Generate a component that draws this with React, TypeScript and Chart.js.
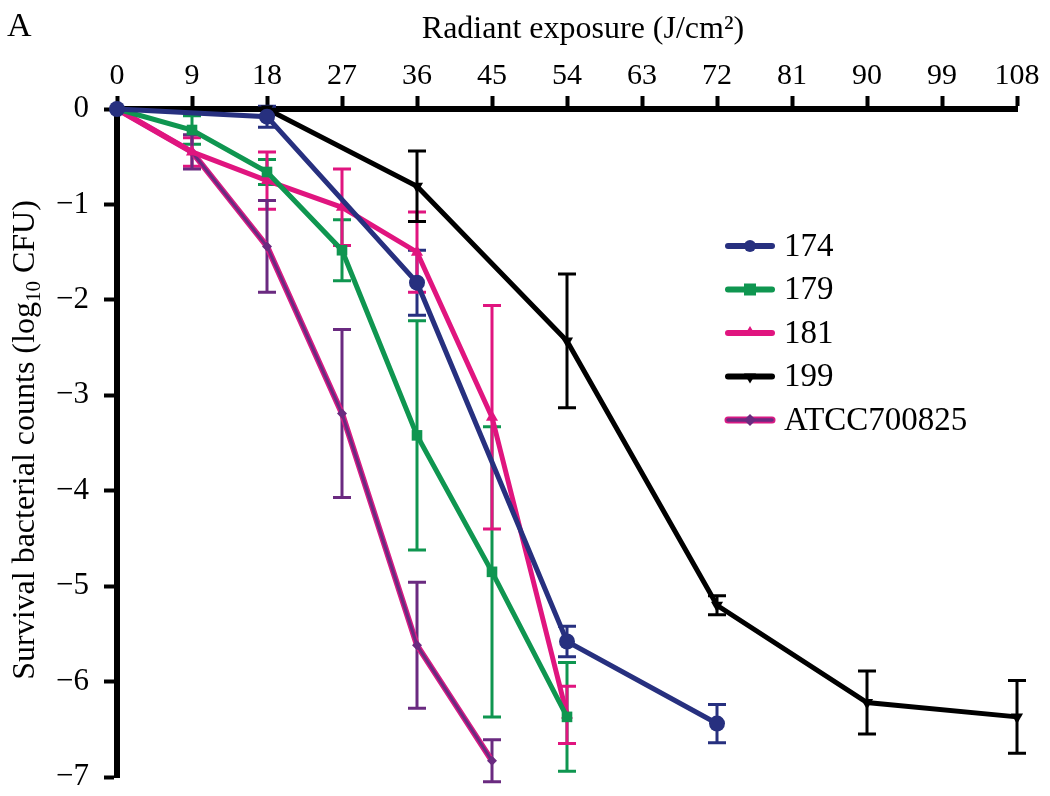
import React, { useEffect, useRef } from "react";
import { Chart, registerables } from "chart.js";

Chart.register(...registerables);

// ---- data ----
const xTicks = [0, 9, 18, 27, 36, 45, 54, 63, 72, 81, 90, 99, 108];
const yTickLabels = ["0", "\u22121", "\u22122", "\u22123", "\u22124", "\u22125", "\u22126", "\u22127"];

const seriesNames = ["174", "179", "181", "199", "ATCC700825"];

const dose174 = [0, 18, 36, 54, 72];
const mean174 = [0, -0.08, -1.82, -5.58, -6.44];
const err174 = [0, 0.11, 0.34, 0.16, 0.2];

const dose179 = [0, 9, 18, 27, 36, 45, 54];
const mean179 = [0, -0.22, -0.66, -1.48, -3.42, -4.85, -6.37];
const err179 = [0, 0.15, 0.13, 0.32, 1.2, 1.52, 0.57];

const dose181 = [0, 9, 18, 27, 36, 45, 54];
const mean181 = [0, -0.45, -0.75, -1.03, -1.5, -3.23, -6.35];
const err181 = [0, 0.15, 0.3, 0.4, 0.42, 1.17, 0.3];

const dose199 = [0, 18, 36, 54, 72, 90, 108];
const mean199 = [0, 0, -0.81, -2.43, -5.2, -6.22, -6.37];
const err199 = [0, 0, 0.37, 0.7, 0.1, 0.33, 0.38];

const doseATCC = [0, 9, 18, 27, 36, 45];
const meanATCC = [0, -0.45, -1.44, -3.19, -5.62, -6.83];
const errATCC = [0, 0.18, 0.48, 0.88, 0.66, 0.22];

const colors = ["#27307f", "#0f9650", "#e0157f", "#000000", "#6a2a80"];
const outlineATCC = "#d81b84";
const pointStyles = ["circle", "rect", "triangle", "triangle", "rectRot"];
const pointRotations = [0, 0, 0, 180, 0];
const pointRadii = [8, 7.5, 7, 7, 5];

const FONT = "'Liberation Serif', 'DejaVu Serif', serif";

const allDose = [dose174, dose179, dose181, dose199, doseATCC];
const allMean = [mean174, mean179, mean181, mean199, meanATCC];
const allErr = [err174, err179, err181, err199, errATCC];

const toPoints = (xs: number[], ys: number[]) => xs.map((x, i) => ({ x, y: ys[i] }));

const errorBarPlugin = {
  id: "errorBars",
  beforeDatasetsDraw(chart: any) {
    const { ctx, scales } = chart;
    const xs = scales.x;
    const ys = scales.y;
    ctx.save();
    allDose.forEach((doses, si) => {
      ctx.strokeStyle = colors[si];
      ctx.lineWidth = 3;
      ctx.lineCap = "butt";
      doses.forEach((d, i) => {
        const e = allErr[si][i];
        if (!e) return;
        const px = xs.getPixelForValue(d);
        const top = ys.getPixelForValue(allMean[si][i] + e);
        const bot = ys.getPixelForValue(allMean[si][i] - e);
        ctx.beginPath();
        ctx.moveTo(px, top);
        ctx.lineTo(px, bot);
        ctx.moveTo(px - 9, top);
        ctx.lineTo(px + 9, top);
        ctx.moveTo(px - 9, bot);
        ctx.lineTo(px + 9, bot);
        ctx.stroke();
      });
    });
    ctx.restore();
  },
};

const annotationPlugin = {
  id: "annotations",
  afterDraw(chart: any) {
    const { ctx } = chart;
    ctx.save();
    ctx.fillStyle = "#000";
    // panel letter
    ctx.font = `34px ${FONT}`;
    ctx.textAlign = "left";
    ctx.textBaseline = "alphabetic";
    ctx.fillText("A", 7, 36);
    // x title
    ctx.font = `32px ${FONT}`;
    ctx.textAlign = "center";
    ctx.fillText("Radiant exposure (J/cm\u00b2)", 583, 38);
    // y title with subscript
    ctx.translate(34, 440);
    ctx.rotate(-Math.PI / 2);
    const big = `32px ${FONT}`;
    const small = `21px ${FONT}`;
    const parts = [
      { t: "Survival bacterial counts (log", f: big, dy: 0 },
      { t: "10", f: small, dy: 6 },
      { t: " CFU)", f: big, dy: 0 },
    ];
    let total = 0;
    parts.forEach((p) => {
      ctx.font = p.f;
      total += ctx.measureText(p.t).width;
    });
    let cx = -total / 2;
    ctx.textAlign = "left";
    parts.forEach((p) => {
      ctx.font = p.f;
      ctx.fillText(p.t, cx, p.dy);
      cx += ctx.measureText(p.t).width;
    });
    ctx.restore();

    // legend
    ctx.save();
    const lx = 728;
    const ly0 = 246;
    const gap = 43.5;
    seriesNames.forEach((name, i) => {
      const y = ly0 + i * gap;
      ctx.lineCap = "round";
      if (i === 4) {
        ctx.strokeStyle = outlineATCC;
        ctx.lineWidth = 7;
        ctx.beginPath();
        ctx.moveTo(lx, y);
        ctx.lineTo(lx + 44, y);
        ctx.stroke();
        ctx.strokeStyle = colors[i];
        ctx.lineWidth = 3.5;
        ctx.beginPath();
        ctx.moveTo(lx, y);
        ctx.lineTo(lx + 44, y);
        ctx.stroke();
      } else {
        ctx.strokeStyle = colors[i];
        ctx.lineWidth = 6;
        ctx.beginPath();
        ctx.moveTo(lx, y);
        ctx.lineTo(lx + 44, y);
        ctx.stroke();
      }
      ctx.fillStyle = colors[i];
      ctx.beginPath();
      if (pointStyles[i] === "circle") ctx.arc(lx + 22, y, 6, 0, Math.PI * 2);
      else if (pointStyles[i] === "rect") ctx.rect(lx + 16, y - 6, 12, 12);
      else if (pointStyles[i] === "triangle" && pointRotations[i] === 0) {
        ctx.moveTo(lx + 22, y - 7);
        ctx.lineTo(lx + 28, y + 3);
        ctx.lineTo(lx + 16, y + 3);
      } else if (pointStyles[i] === "triangle") {
        ctx.moveTo(lx + 22, y + 7);
        ctx.lineTo(lx + 28, y - 3);
        ctx.lineTo(lx + 16, y - 3);
      } else {
        ctx.moveTo(lx + 22, y - 6);
        ctx.lineTo(lx + 28, y);
        ctx.lineTo(lx + 22, y + 6);
        ctx.lineTo(lx + 16, y);
      }
      ctx.closePath();
      ctx.fill();
      ctx.fillStyle = "#000";
      ctx.font = `33px ${FONT}`;
      ctx.textAlign = "left";
      ctx.textBaseline = "middle";
      ctx.fillText(name, lx + 56, y + 1);
    });
    ctx.restore();
  },
};

export default function App() {
  const ref = useRef<HTMLCanvasElement | null>(null);

  useEffect(() => {
    document.body.style.margin = "0";
    const canvas = ref.current;
    if (!canvas) return;

    const datasets: any[] = seriesNames.map((name, i) => ({
      label: name,
      data: toPoints(allDose[i], allMean[i]),
      borderColor: colors[i],
      backgroundColor: colors[i],
      borderWidth: i === 4 ? 3 : 5,
      pointStyle: pointStyles[i],
      rotation: pointRotations[i],
      pointRadius: pointRadii[i],
      pointBorderWidth: 0,
      pointBackgroundColor: colors[i],
      tension: 0,
      clip: false,
      order: i === 4 ? 1 : 0,
    }));
    // pink outline beneath the ATCC line
    datasets.push({
      label: "ATCC700825 outline",
      data: toPoints(doseATCC, meanATCC),
      borderColor: outlineATCC,
      borderWidth: 6,
      pointRadius: 0,
      tension: 0,
      clip: false,
      order: 2,
    });

    const chart = new Chart(canvas, {
      type: "line",
      data: { datasets },
      options: {
        responsive: false,
        animation: false,
        devicePixelRatio: 1,
        layout: { padding: { top: 0, left: 0, right: 33, bottom: 19 } },
        plugins: {
          legend: { display: false },
          tooltip: { enabled: false },
        },
        scales: {
          x: {
            type: "linear",
            position: "top",
            min: 0,
            max: 108,
            afterFit: (s: any) => {
              s.height = 109;
              s.paddingLeft = 0;
              s.paddingRight = 0;
            },
            afterBuildTicks: (s: any) => {
              s.ticks = xTicks.map((v) => ({ value: v }));
            },
            ticks: {
              color: "#000",
              font: { family: FONT, size: 30 },
              padding: 2,
              maxRotation: 0,
              autoSkip: false,
            },
            grid: {
              display: true,
              drawOnChartArea: false,
              drawTicks: true,
              tickLength: 13,
              tickWidth: 4,
              tickColor: "#000",
            },
            border: { display: true, color: "#000", width: 6 },
          },
          y: {
            type: "linear",
            min: -7,
            max: 0,
            afterFit: (s: any) => {
              s.width = 117;
              s.paddingTop = 0;
              s.paddingBottom = 0;
            },
            afterBuildTicks: (s: any) => {
              s.ticks = yTickLabels.map((_, i) => ({ value: -i }));
            },
            ticks: {
              color: "#000",
              font: { family: FONT, size: 31 },
              padding: 15,
              autoSkip: false,
              callback: (v: any) => yTickLabels[Math.round(-Number(v))],
            },
            grid: {
              display: true,
              drawOnChartArea: false,
              drawTicks: true,
              tickLength: 13,
              tickWidth: 4,
              tickColor: "#000",
            },
            border: { display: true, color: "#000", width: 6 },
          },
        },
      },
      plugins: [errorBarPlugin, annotationPlugin],
    } as any);

    return () => chart.destroy();
  }, []);

  return (
    <div style={{ width: 1050, height: 796, background: "#fff" }}>
      <canvas ref={ref} width={1050} height={796} />
    </div>
  );
}
